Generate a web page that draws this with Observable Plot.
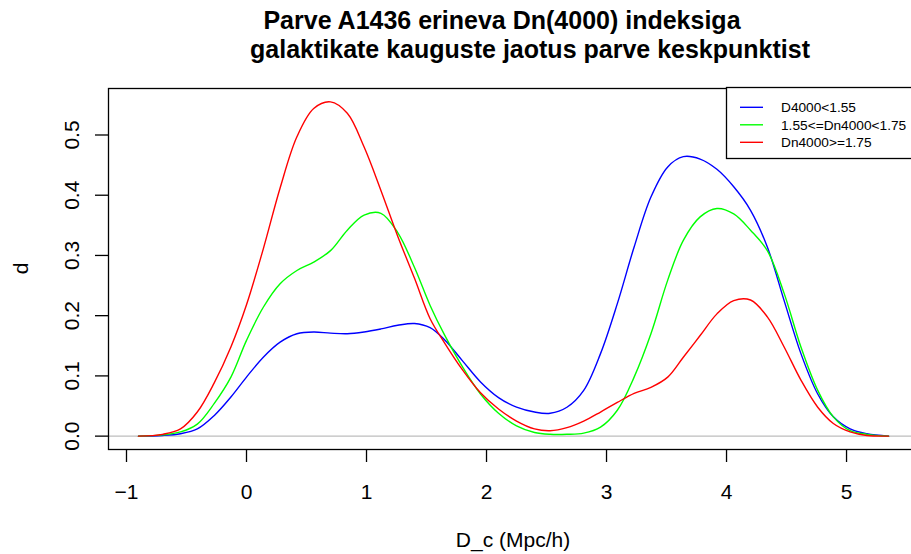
<!DOCTYPE html>
<html><head><meta charset="utf-8">
<script src="https://cdn.jsdelivr.net/npm/d3@7"></script>
<script src="https://cdn.jsdelivr.net/npm/@observablehq/plot@0.6"></script>
<style>
html,body{margin:0;padding:0;background:#fff;overflow:hidden;width:911px;height:554px}
#chart svg{display:block}
</style></head>
<body><div id="chart"></div>
<script>
// Distance from cluster centre (Mpc/h)
const xGrid = [-0.9,-0.7,-0.55,-0.41,-0.27,-0.13,0,0.14,0.28,0.42,0.56,0.7,0.84,0.98,1.12,1.26,1.4,1.53,1.65,1.8,1.95,2.1,2.25,2.4,2.53,2.67,2.81,2.95,3.09,3.23,3.37,3.51,3.64,3.78,3.92,4.06,4.2,4.34,4.48,4.62,4.76,4.89,5.03,5.17,5.35];
// Density estimates per Dn(4000) group
const blueDensity = [0,0.001,0.004,0.012,0.034,0.065,0.098,0.131,0.156,0.170,0.173,0.171,0.170,0.173,0.178,0.184,0.187,0.180,0.160,0.125,0.090,0.064,0.048,0.040,0.038,0.048,0.076,0.137,0.220,0.314,0.397,0.447,0.464,0.460,0.443,0.414,0.375,0.314,0.225,0.137,0.070,0.032,0.012,0.004,0];
const greenDensity = [0,0.002,0.007,0.020,0.054,0.098,0.159,0.214,0.253,0.275,0.289,0.308,0.342,0.367,0.370,0.338,0.280,0.217,0.168,0.115,0.070,0.038,0.017,0.006,0.003,0.003,0.005,0.015,0.043,0.098,0.170,0.259,0.325,0.364,0.378,0.369,0.342,0.308,0.237,0.148,0.076,0.032,0.009,0.003,0];
const redDensity = [0,0.003,0.012,0.040,0.088,0.148,0.218,0.311,0.412,0.497,0.544,0.555,0.536,0.480,0.408,0.332,0.262,0.195,0.155,0.110,0.072,0.045,0.025,0.012,0.009,0.014,0.025,0.040,0.056,0.071,0.081,0.098,0.131,0.167,0.203,0.225,0.226,0.198,0.148,0.093,0.048,0.021,0.007,0.001,0];

const seriesNames = ["D4000<1.55", "1.55<=Dn4000<1.75", "Dn4000>=1.75"];
const seriesColors = ["#0000ff", "#00ff00", "#ff0000"];
const xTicks = [-1, 0, 1, 2, 3, 4, 5];
const yTicks = [0, 0.1, 0.2, 0.3, 0.4, 0.5];
const titleLines = ["Parve A1436 erineva Dn(4000) indeksiga", "galaktikate kauguste jaotus parve keskpunktist"];
const xLabel = "D_c (Mpc/h)";
const yLabel = "d";

const rows = [];
[blueDensity, greenDensity, redDensity].forEach((vals, i) =>
  vals.forEach((v, j) => rows.push({x: xGrid[j], y: v, s: seriesNames[i]})));

const font = "'Liberation Sans', Arial, Helvetica, sans-serif";

const chart = Plot.plot({
  width: 911, height: 554,
  marginLeft: 108, marginRight: -5, marginTop: 88, marginBottom: 105,
  style: {fontFamily: font, background: "white", overflow: "hidden", maxWidth: "none"},
  x: {domain: [-1.15, 5.583]},
  y: {domain: [-0.0222, 0.5772]},
  color: {domain: seriesNames, range: seriesColors},
  marks: [
    Plot.ruleY([0], {stroke: "#bebebe", strokeWidth: 1.3}),
    Plot.line(rows, {x: "x", y: "y", z: "s", stroke: "s", strokeWidth: 1.4, curve: "catmull-rom"}),
    Plot.frame({stroke: "black", strokeWidth: 1.3}),
    Plot.axisX(xTicks, {tickSize: 13, tickPadding: 22, fontSize: 21, strokeWidth: 1.3,
      tickFormat: d => d < 0 ? "\u2212" + (-d) : String(d), label: null}),
    Plot.axisY(yTicks, {tickSize: 13, strokeWidth: 1.3, tickFormat: () => "", label: null}),
    Plot.text(yTicks, {y: d => d, text: d => d.toFixed(1), frameAnchor: "left", dx: -36,
      rotate: -90, fontSize: 21, lineAnchor: "middle", textAnchor: "middle", fill: "black"})
  ]
});
document.getElementById("chart").appendChild(chart);

const svg = d3.select(chart);
// Title
const tx = [502, 530], ty = [29, 58];
titleLines.forEach((t, i) => {
  svg.append("text").attr("x", tx[i]).attr("y", ty[i]).attr("text-anchor", "middle")
    .attr("font-family", font).attr("font-weight", "bold").attr("font-size", 25)
    .attr("fill", "black").text(t);
});
// Axis labels
svg.append("text").attr("x", 513).attr("y", 547).attr("text-anchor", "middle")
  .attr("font-family", font).attr("font-size", 21).attr("fill", "black").text(xLabel);
svg.append("text").attr("transform", "translate(28,268.5) rotate(-90)").attr("text-anchor", "middle")
  .attr("font-family", font).attr("font-size", 21).attr("fill", "black").text(yLabel);
// Legend
const lg = svg.append("g").attr("text-anchor", "start");
lg.append("rect").attr("x", 726.5).attr("y", 87.5).attr("width", 200).attr("height", 71)
  .attr("fill", "white").attr("stroke", "black").attr("stroke-width", 1.3);
seriesNames.forEach((n, i) => {
  const yy = 107.3 + i * 17.5;
  lg.append("line").attr("x1", 740).attr("x2", 763).attr("y1", yy).attr("y2", yy)
    .attr("stroke", seriesColors[i]).attr("stroke-width", 1.4);
  lg.append("text").attr("x", 781).attr("y", yy).attr("dy", "0.36em").attr("text-anchor", "start")
    .attr("font-family", font).attr("font-size", 13.7).attr("fill", "black").text(n);
});
</script>
</body></html>
